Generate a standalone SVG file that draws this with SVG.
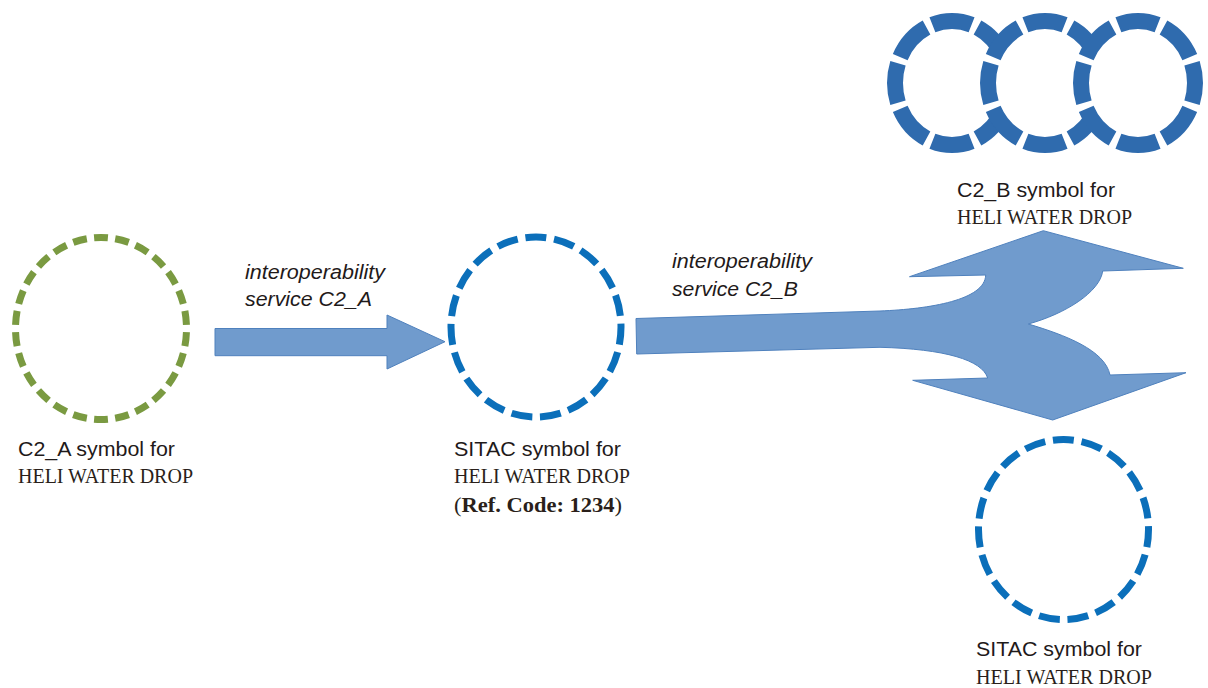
<svg xmlns="http://www.w3.org/2000/svg" width="1208" height="688" viewBox="0 0 1208 688">
<style>
.sans{font-family:"Liberation Sans",Arial,sans-serif;font-size:20.5px;fill:#1f1a1a}
.it{font-style:italic;font-size:20.5px}
.serif{font-family:"Liberation Serif","Times New Roman",serif;font-size:22px;fill:#2a1f1a}
.bold{font-weight:bold}
.ring{fill:none;stroke:#0b6fba;stroke-width:7}
.green{fill:none;stroke:#7a9a41;stroke-width:7}
.lobe{fill:#fff;stroke:#2f6bae;stroke-width:16}
.arrow{fill:#709bcd;stroke:#4f81bd;stroke-width:1}
</style>
<rect width="1208" height="688" fill="#fff"/>
<g id="connectors">
<path class="arrow" d="M215 328.5H387V315L445 341.7 387 369V355.7H215Z"/>
<path class="arrow" d="M636 318.5L880 311C930 309 985 300 985.7 275L909.5 276.7 1043.3 230.7 1183.3 268.3 1102.7 271C1100 292 1065 314 1028.3 324C1065 335 1105 350 1110 375L1186 372.7 1052.7 420 912.7 380.3 987.7 378C982 360 945 349 880 347.3L636.7 354Z"/>
<text class="sans it" x="245" y="279" textLength="140" lengthAdjust="spacingAndGlyphs">interoperability</text>
<text class="sans it" x="245" y="306" textLength="127" lengthAdjust="spacingAndGlyphs">service C2_A</text>
<text class="sans it" x="672" y="268" textLength="140" lengthAdjust="spacingAndGlyphs">interoperability</text>
<text class="sans it" x="672" y="296" textLength="126" lengthAdjust="spacingAndGlyphs">service C2_B</text>
</g>
<g id="node-c2a">
<ellipse class="green" cx="101" cy="328.5" rx="85.5" ry="91" pathLength="260" stroke-dasharray="6.6 3.4" stroke-dashoffset="8.3"/>
<text class="sans" x="18" y="456" textLength="157" lengthAdjust="spacingAndGlyphs">C2_A symbol for</text>
<text class="serif" x="18" y="483" textLength="175" lengthAdjust="spacingAndGlyphs">HELI WATER DROP</text>
</g>
<g id="node-sitac">
<ellipse class="ring" cx="536" cy="327" rx="85" ry="90" pathLength="190" stroke-dasharray="7.3 2.7" stroke-dashoffset="1.2"/>
<text class="sans" x="454" y="456" textLength="167" lengthAdjust="spacingAndGlyphs">SITAC symbol for</text>
<text class="serif" x="454" y="483" textLength="176" lengthAdjust="spacingAndGlyphs">HELI WATER DROP</text>
<text class="serif" x="454" y="512" textLength="168" lengthAdjust="spacingAndGlyphs">(<tspan class="bold">Ref. Code: 1234</tspan>)</text>
</g>
<g id="node-c2b">
<ellipse class="lobe" cx="952" cy="83" rx="57" ry="62" pathLength="80" stroke-dasharray="8.6 1.4" stroke-dashoffset="4.3"/>
<ellipse class="lobe" cx="1045" cy="83" rx="57" ry="62" pathLength="80" stroke-dasharray="8.6 1.4" stroke-dashoffset="4.3"/>
<ellipse class="lobe" cx="1138" cy="83" rx="57" ry="62" pathLength="80" stroke-dasharray="8.6 1.4" stroke-dashoffset="4.3"/>
<text class="sans" x="957" y="197" textLength="158" lengthAdjust="spacingAndGlyphs">C2_B symbol for</text>
<text class="serif" x="957" y="224" textLength="175" lengthAdjust="spacingAndGlyphs">HELI WATER DROP</text>
</g>
<g id="node-sitac-b">
<ellipse class="ring" cx="1063.5" cy="529.5" rx="85" ry="90" pathLength="190" stroke-dasharray="7.3 2.7" stroke-dashoffset="1.2"/>
<text class="sans" x="976" y="656" textLength="166" lengthAdjust="spacingAndGlyphs">SITAC symbol for</text>
<text class="serif" x="976" y="684" textLength="176" lengthAdjust="spacingAndGlyphs">HELI WATER DROP</text>
</g>
</svg>
